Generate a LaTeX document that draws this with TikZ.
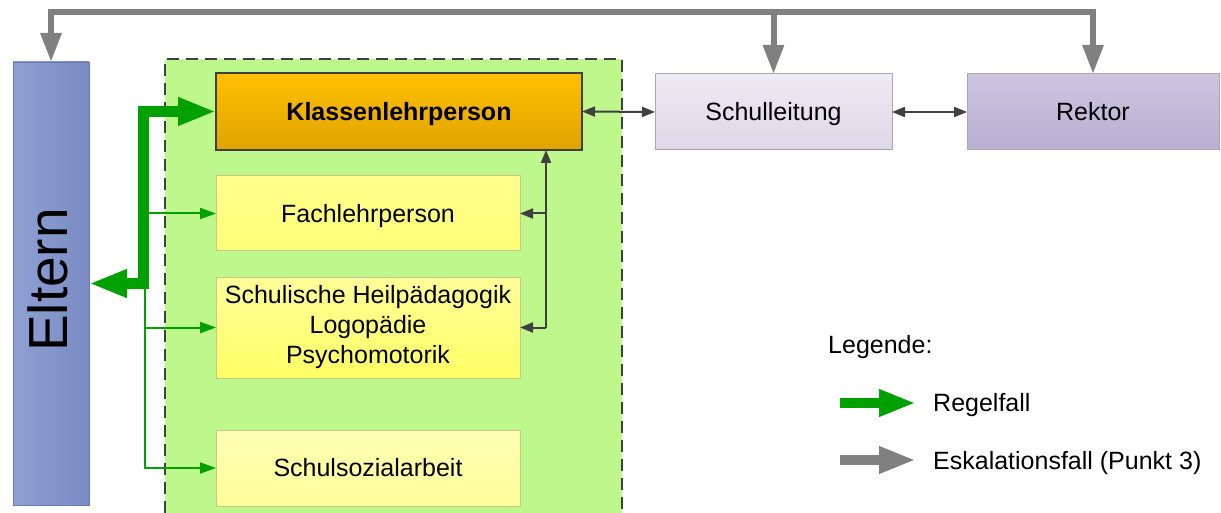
\documentclass[tikz,border=0pt]{standalone}
\usepackage{fontspec}
\setmainfont{Liberation Sans}
\usetikzlibrary{arrows.meta}
\definecolor{cgreen}{HTML}{00A000}
\definecolor{cgray}{HTML}{808080}
\definecolor{cdark}{HTML}{404040}
\definecolor{contfill}{HTML}{BEF78C}
\definecolor{eltL}{HTML}{8FA0D3}
\definecolor{eltR}{HTML}{7A8BC3}
\definecolor{eltB}{HTML}{6A7AAE}
\definecolor{klT}{HTML}{FFC000}
\definecolor{klB}{HTML}{E0A300}
\definecolor{yeB}{HTML}{C8C88A}
\definecolor{faT}{HTML}{FFFF8C}
\definecolor{faB}{HTML}{FFFF78}
\definecolor{shT}{HTML}{FFFF9A}
\definecolor{shB}{HTML}{FFFF66}
\definecolor{soT}{HTML}{FFFFB4}
\definecolor{soB}{HTML}{FFFF9A}
\definecolor{leT}{HTML}{EDEBF3}
\definecolor{leB}{HTML}{DCD8E8}
\definecolor{reT}{HTML}{CCC5DF}
\definecolor{reB}{HTML}{B9AFD2}
\definecolor{liB}{HTML}{A8A8B0}
\tikzset{
  regtip/.tip={Triangle[length=38pt,width=26pt]},
  conntip/.tip={Triangle[length=13pt,width=10pt]}
}
\begin{document}
\begin{tikzpicture}[x=1pt,y=-1pt,
  box/.style={rectangle, inner sep=0pt, outer sep=0pt, align=center,
    font=\fontsize{25}{30}\selectfont},
  oneline/.style={text height=22.6pt, text depth=5.3pt},
  yellowbox/.style={box, draw=yeB, line width=1pt,
    top color=faT, bottom color=faB, minimum width=304pt},
  lilabox/.style={box, oneline, draw=liB, line width=1pt, minimum height=76pt},
  reg/.style={line width=11pt, draw=cgreen},
  regthin/.style={line width=2pt, draw=cgreen, -{Triangle[length=16pt,width=11pt]}},
  esc/.style={line width=6pt, draw=cgray, -{Triangle[length=29pt,width=20pt]}},
  conn/.style={line width=2pt, draw=cdark},
  legtext/.style={anchor=base west, inner sep=0pt, font=\fontsize{25}{30}\selectfont}
]
\useasboundingbox (0,0) rectangle (1221,513);
% container
\fill[contfill] (165,59) rectangle (622,513);
\draw[cdark, line width=2.5pt, dash pattern=on 12pt off 7pt] (165,513) -- (165,59) -- (622,59) -- (622,513);

% nodes
\node[box, minimum width=76pt, minimum height=443pt, left color=eltL, right color=eltR,
  draw=eltB, line width=0.5pt] (Eltern) at (51,283.5) {};
\node[rotate=90, inner sep=0pt, font=\fontsize{55}{60}\selectfont] (EltLabel) at (48,280) {Eltern};

\node[box, oneline, minimum width=366pt, minimum height=77pt, draw=cdark, line width=2.5pt,
  top color=klT, bottom color=klB, font=\bfseries\fontsize{25}{30}\selectfont]
  (Klassen) at (399,111.5) {Klassenlehrperson};
\node[yellowbox, oneline, minimum height=75pt] (Fach) at (368,213.5) {Fachlehrperson};
\node[yellowbox, minimum height=101pt, top color=shT, bottom color=shB]
  (Schul) at (368,327.5) {Schulische Heilpädagogik\\Logopädie\\Psychomotorik};
\node[yellowbox, oneline, minimum height=76pt, top color=soT, bottom color=soB]
  (Sozial) at (368,468) {Schulsozialarbeit};

\node[lilabox, minimum width=237pt, top color=leT, bottom color=leB]
  (Leitung) at (773.5,112) {Schulleitung};
\node[lilabox, minimum width=252pt, top color=reT, bottom color=reB]
  (Rektor) at (1093,112) {Rektor};

% escalation
\coordinate (top) at (0,12);
\draw[esc] (Leitung.north |- top) -| (Eltern.north);
\draw[esc] (Leitung.north |- top) -| (Rektor.north);
\draw[esc] (Leitung.north |- top) -- (Leitung.north);

% green
\coordinate (gj) at (143,284);
\coordinate (gb) at (145,284);
\draw[regthin] (gb) |- (Sozial.west);
\draw[regthin] (Schul.west -| gb) -- (Schul.west);
\draw[regthin] (Fach.west -| gj) -- (Fach.west);
\draw[reg, regtip-regtip] (Eltern.east) -- (Eltern.east -| gj) |- (Klassen.west);

% dark connectors
\coordinate (vc) at (546,0);
\draw[conn, -conntip] (vc |- Schul.east) -- (vc |- Klassen.south);
\draw[conn, -conntip] (vc |- Schul.east) -- (Schul.east);
\draw[conn, -conntip] (vc |- Fach.east) -- (Fach.east);
\draw[conn, conntip-conntip] (Klassen.east) -- (Leitung.west);
\draw[conn, conntip-conntip] (Leitung.east) -- (Rektor.west);

% legend
\node[legtext] (LegTitle) at (828,353) {Legende:};
\coordinate (l1a) at (840,403);
\coordinate (l1b) at (916,403);
\coordinate (l2a) at (840,460);
\coordinate (l2b) at (916,460);
\draw[line width=10pt, draw=cgreen, -{Triangle[length=37pt,width=25pt]}] (l1a) -- (l1b);
\draw[line width=10pt, draw=cgray, -{Triangle[length=37pt,width=25pt]}] (l2a) -- (l2b);
\node[legtext] (LegReg) at (933,411) {Regelfall};
\node[legtext] (LegEsc) at (933,469) {Eskalationsfall (Punkt 3)};
\end{tikzpicture}
\end{document}
